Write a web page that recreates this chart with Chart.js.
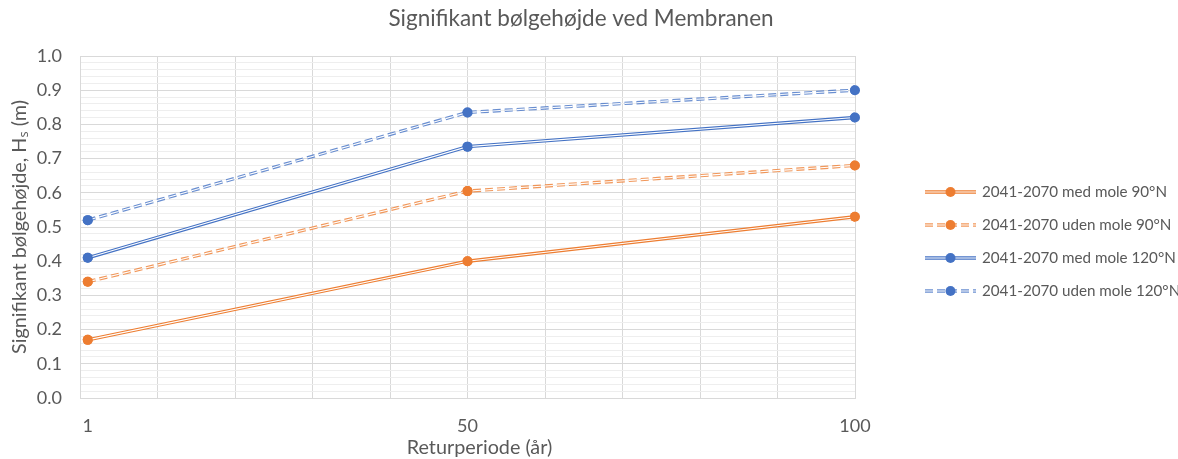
<!DOCTYPE html>
<html>
<head>
<meta charset="utf-8">
<script src="https://cdn.jsdelivr.net/npm/chart.js@4.4.1/dist/chart.umd.min.js"></script>
<style>
  html, body { margin: 0; padding: 0; background: #ffffff; }
  #wrap { width: 1178px; height: 459px; position: relative; }
</style>
</head>
<body>
<div id="wrap"><canvas id="c" width="1178" height="459"></canvas></div>
<script>
// Return periods (years) and significant wave heights (m)
const returnPeriods = [1, 50, 100];
const medMole90 = [0.17, 0.40, 0.53];
const udenMole90 = [0.34, 0.605, 0.68];
const medMole120 = [0.41, 0.735, 0.82];
const udenMole120 = [0.52, 0.835, 0.90];

const seriesNames = [
  '2041-2070 med mole 90°N',
  '2041-2070 uden mole 90°N',
  '2041-2070 med mole 120°N',
  '2041-2070 uden mole 120°N'
];
const xTickLabels = [1, 50, 100];
const xAxisTitle = 'Returperiode (år)';

const FONT = 'Lato, "Open Sans", "DejaVu Sans", sans-serif';
const TEXT = '#595959';
const ORANGE = '#ED7D31';
const BLUE = '#4472C4';
const DASH = [8, 4];

function toPoints(values) {
  return returnPeriods.map((x, i) => ({ x: x, y: values[i] }));
}

function series(label, values, color, dashed) {
  return {
    label: label,
    data: toPoints(values),
    borderColor: dashed ? color + 'CC' : color,
    backgroundColor: color,
    borderWidth: 3.4,
    borderDash: dashed ? DASH : [],
    pointRadius: 5,
    pointHoverRadius: 5,
    pointBackgroundColor: color,
    pointBorderColor: color,
    pointBorderWidth: 0,
    tension: 0,
    fill: false
  };
}

// Thin white core on top of each line, giving a double-stroke look; markers redrawn above it
const compoundLine = {
  id: 'compoundLine',
  afterDatasetDraw(chart, args) {
    const ctx = chart.ctx;
    const ds = chart.data.datasets[args.index];
    const pts = args.meta.data;
    ctx.save();
    ctx.strokeStyle = '#ffffff';
    ctx.lineWidth = 1.1;
    ctx.setLineDash(ds.borderDash || []);
    ctx.beginPath();
    pts.forEach((p, i) => (i ? ctx.lineTo(p.x, p.y) : ctx.moveTo(p.x, p.y)));
    ctx.stroke();
    ctx.restore();
    pts.forEach(p => p.draw(ctx, chart.chartArea));
  }
};

// Legend at the right (line sample with marker, then the series name)
// and the x-axis caption below the tick labels
const sideLegend = {
  id: 'sideLegend',
  afterDraw(chart) {
    const ctx = chart.ctx;
    const x0 = 925, x1 = 976, textX = 982;
    const top = 192, step = 33;
    chart.data.datasets.forEach((ds, i) => {
      const y = top + i * step;
      ctx.save();
      ctx.lineWidth = ds.borderWidth;
      ctx.strokeStyle = ds.borderColor;
      ctx.setLineDash(ds.borderDash || []);
      ctx.beginPath(); ctx.moveTo(x0, y); ctx.lineTo(x1, y); ctx.stroke();
      ctx.lineWidth = 1.1;
      ctx.strokeStyle = '#ffffff';
      ctx.beginPath(); ctx.moveTo(x0, y); ctx.lineTo(x1, y); ctx.stroke();
      ctx.setLineDash([]);
      ctx.fillStyle = ds.pointBackgroundColor;
      ctx.beginPath(); ctx.arc((x0 + x1) / 2, y, 5, 0, Math.PI * 2); ctx.fill();
      ctx.fillStyle = TEXT;
      ctx.font = '15.2px ' + FONT;
      ctx.textBaseline = 'middle';
      ctx.textAlign = 'left';
      ctx.fillText(ds.label, textX, y);
      ctx.restore();
    });

    ctx.save();
    ctx.fillStyle = TEXT;
    ctx.font = '19.8px ' + FONT;
    ctx.textAlign = 'center';
    ctx.textBaseline = 'middle';
    ctx.fillText(xAxisTitle, chart.chartArea.left + (chart.chartArea.right - chart.chartArea.left) / 2 + 12, 448);
    ctx.restore();
  }
};

new Chart(document.getElementById('c'), {
  type: 'line',
  data: {
    datasets: [
      series(seriesNames[0], medMole90, ORANGE, false),
      series(seriesNames[1], udenMole90, ORANGE, true),
      series(seriesNames[2], medMole120, BLUE, false),
      series(seriesNames[3], udenMole120, BLUE, true)
    ]
  },
  options: {
    responsive: false,
    devicePixelRatio: 1,
    animation: false,
    layout: { padding: { left: 0, right: 16, top: 0, bottom: 0 } },
    plugins: {
      legend: { display: false },
      tooltip: { enabled: false },
      title: {
        display: true,
        text: 'Signifikant bølgehøjde ved Membranen',
        color: TEXT,
        font: { family: FONT, size: 22.5, weight: 'normal' },
        padding: { top: 5, bottom: 24 }
      }
    },
    scales: {
      x: {
        type: 'linear',
        position: 'bottom',
        min: 0,
        max: 100,
        ticks: { display: false, stepSize: 10 },
        grid: { color: '#d9d9d9', lineWidth: 1, drawTicks: false },
        border: { color: '#d9d9d9' },
        afterFit(s) { s.height = 0; }
      },
      x2: {
        type: 'linear',
        position: 'bottom',
        min: 0,
        max: 100,
        grid: { display: false, drawTicks: false },
        border: { display: false },
        afterBuildTicks(s) { s.ticks = xTickLabels.map(v => ({ value: v })); },
        ticks: {
          color: TEXT,
          font: { family: FONT, size: 18 },
          padding: 17,
          autoSkip: false,
          maxRotation: 0,
          callback: v => String(v)
        },
        afterFit(s) { s.height = 61; }
      },
      y: {
        type: 'linear',
        min: 0,
        max: 1,
        ticks: {
          stepSize: 0.02,
          autoSkip: false,
          color: TEXT,
          font: { family: FONT, size: 18 },
          padding: 18,
          callback: v => (Math.round(v * 50) % 5 === 0 ? v.toFixed(1) : '')
        },
        grid: {
          drawTicks: false,
          color: c => (Math.round(c.tick.value * 50) % 5 === 0 ? '#d9d9d9' : '#eeeeee'),
          lineWidth: 1
        },
        border: { color: '#d9d9d9' },
        title: {
          display: true,
          text: 'Signifikant bølgehøjde, Hₛ (m)',
          color: TEXT,
          font: { family: FONT, size: 19.8 },
          padding: { top: 8, bottom: 0 }
        },
        afterFit(s) { s.width = 80; }
      },
      // Empty right-hand band that holds the legend
      legendBand: {
        type: 'linear',
        position: 'right',
        min: 0,
        max: 1,
        ticks: { display: false },
        grid: { display: false, drawTicks: false },
        border: { display: false },
        afterFit(s) { s.width = 307; }
      }
    }
  },
  plugins: [compoundLine, sideLegend]
});
</script>
</body>
</html>
